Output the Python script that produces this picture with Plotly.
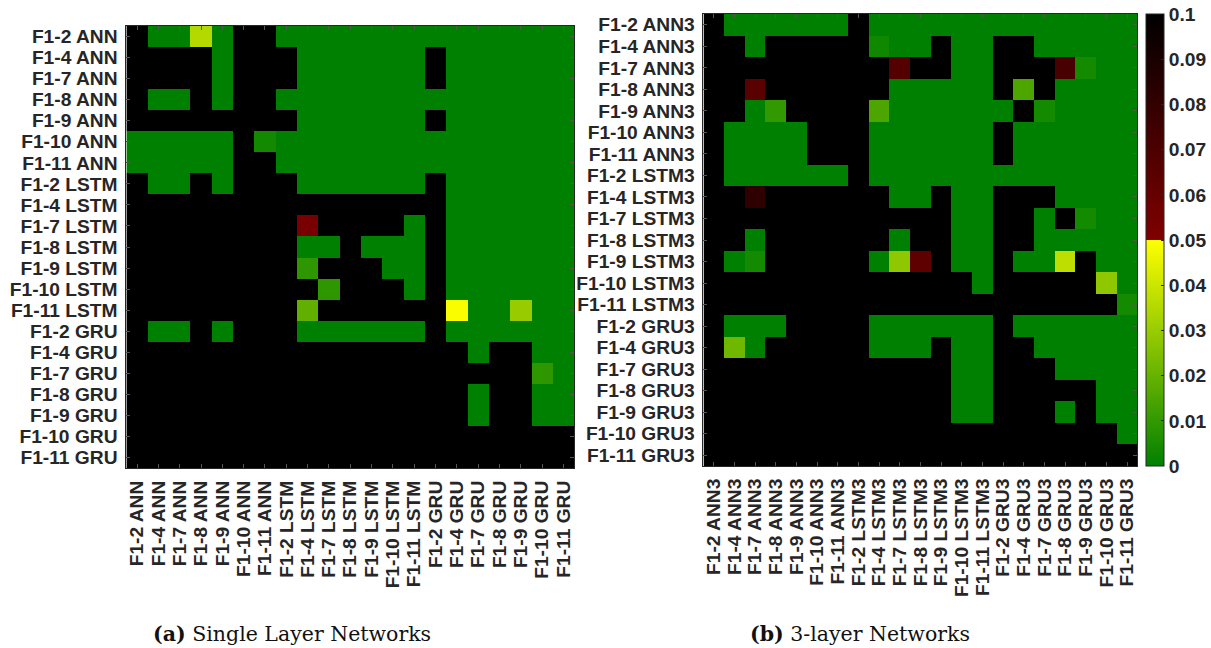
import plotly.graph_objects as go

# Model labels for the single-layer and 3-layer comparisons
labels_1 = ["F1-2 ANN", "F1-4 ANN", "F1-7 ANN", "F1-8 ANN", "F1-9 ANN", "F1-10 ANN", "F1-11 ANN",
            "F1-2 LSTM", "F1-4 LSTM", "F1-7 LSTM", "F1-8 LSTM", "F1-9 LSTM", "F1-10 LSTM", "F1-11 LSTM",
            "F1-2 GRU", "F1-4 GRU", "F1-7 GRU", "F1-8 GRU", "F1-9 GRU", "F1-10 GRU", "F1-11 GRU"]
labels_3 = ["F1-2 ANN3", "F1-4 ANN3", "F1-7 ANN3", "F1-8 ANN3", "F1-9 ANN3", "F1-10 ANN3", "F1-11 ANN3",
            "F1-2 LSTM3", "F1-4 LSTM3", "F1-7 LSTM3", "F1-8 LSTM3", "F1-9 LSTM3", "F1-10 LSTM3", "F1-11 LSTM3",
            "F1-2 GRU3", "F1-4 GRU3", "F1-7 GRU3", "F1-8 GRU3", "F1-9 GRU3", "F1-10 GRU3", "F1-11 GRU3"]

# p-values (0.1 means at or above the top of the scale)
p_single = [
    [.1, 0, 0, .035, 0, .1, .1, 0, 0, 0, 0, 0, 0, 0, 0, 0, 0, 0, 0, 0, 0],
    [.1, .1, .1, .1, 0, .1, .1, .1, 0, 0, 0, 0, 0, 0, .1, 0, 0, 0, 0, 0, 0],
    [.1, .1, .1, .1, 0, .1, .1, .1, 0, 0, 0, 0, 0, 0, .1, 0, 0, 0, 0, 0, 0],
    [.1, 0, 0, .1, 0, .1, .1, 0, 0, 0, 0, 0, 0, 0, 0, 0, 0, 0, 0, 0, 0],
    [.1, .1, .1, .1, .1, .1, .1, .1, 0, 0, 0, 0, 0, 0, .1, 0, 0, 0, 0, 0, 0],
    [0, 0, 0, 0, 0, .1, .0035, 0, 0, 0, 0, 0, 0, 0, 0, 0, 0, 0, 0, 0, 0],
    [0, 0, 0, 0, 0, .1, .1, 0, 0, 0, 0, 0, 0, 0, 0, 0, 0, 0, 0, 0, 0],
    [.1, 0, 0, .1, 0, .1, .1, .1, 0, 0, 0, 0, 0, 0, .1, 0, 0, 0, 0, 0, 0],
    [.1, .1, .1, .1, .1, .1, .1, .1, .1, .1, .1, .1, .1, .1, .1, 0, 0, 0, 0, 0, 0],
    [.1, .1, .1, .1, .1, .1, .1, .1, .053, .1, .1, .1, .1, 0, .1, 0, 0, 0, 0, 0, 0],
    [.1, .1, .1, .1, .1, .1, .1, .1, 0, 0, .1, 0, 0, 0, .1, 0, 0, 0, 0, 0, 0],
    [.1, .1, .1, .1, .1, .1, .1, .1, .009, .1, .1, .1, 0, 0, .1, 0, 0, 0, 0, 0, 0],
    [.1, .1, .1, .1, .1, .1, .1, .1, .1, .009, .1, .1, .1, 0, .1, 0, 0, 0, 0, 0, 0],
    [.1, .1, .1, .1, .1, .1, .1, .1, .019, .1, .1, .1, .1, .1, .1, .049, 0, 0, .03, 0, 0],
    [.1, 0, 0, .1, 0, .1, .1, .1, 0, 0, 0, 0, 0, 0, .1, 0, 0, 0, 0, 0, 0],
    [.1, .1, .1, .1, .1, .1, .1, .1, .1, .1, .1, .1, .1, .1, .1, .1, 0, .1, .1, 0, 0],
    [.1, .1, .1, .1, .1, .1, .1, .1, .1, .1, .1, .1, .1, .1, .1, .1, .1, .1, .1, .009, 0],
    [.1, .1, .1, .1, .1, .1, .1, .1, .1, .1, .1, .1, .1, .1, .1, .1, 0, .1, .1, 0, 0],
    [.1, .1, .1, .1, .1, .1, .1, .1, .1, .1, .1, .1, .1, .1, .1, .1, 0, .1, .1, 0, 0],
    [.1, .1, .1, .1, .1, .1, .1, .1, .1, .1, .1, .1, .1, .1, .1, .1, .1, .1, .1, .1, .1],
    [.1, .1, .1, .1, .1, .1, .1, .1, .1, .1, .1, .1, .1, .1, .1, .1, .1, .1, .1, .1, .1],
]

p_three = [
    [.1, 0, 0, 0, 0, 0, 0, .1, 0, 0, 0, 0, 0, 0, 0, 0, 0, 0, 0, 0, 0],
    [.1, .1, 0, .1, .1, .1, .1, .1, .003, 0, 0, .1, 0, 0, .1, .1, 0, 0, 0, 0, 0],
    [.1, .1, .1, .1, .1, .1, .1, .1, .1, .067, .1, .1, 0, 0, .1, .1, .1, .072, .004, 0, 0],
    [.1, .1, .065, .1, .1, .1, .1, .1, .1, 0, 0, 0, 0, 0, .1, .015, .1, 0, 0, 0, 0],
    [.1, .1, 0, .01, .1, .1, .1, .1, .015, 0, 0, 0, 0, 0, 0, .1, .004, 0, 0, 0, 0],
    [.1, 0, 0, 0, 0, .1, .1, .1, 0, 0, 0, 0, 0, 0, .1, 0, 0, 0, 0, 0, 0],
    [.1, 0, 0, 0, 0, .1, .1, .1, 0, 0, 0, 0, 0, 0, .1, 0, 0, 0, 0, 0, 0],
    [.1, 0, 0, 0, 0, 0, 0, .1, 0, 0, 0, 0, 0, 0, 0, 0, 0, 0, 0, 0, 0],
    [.1, .1, .082, .1, .1, .1, .1, .1, .1, 0, 0, .1, 0, 0, .1, .1, .1, 0, 0, 0, 0],
    [.1, .1, .1, .1, .1, .1, .1, .1, .1, .1, .1, .1, 0, 0, .1, .1, 0, .1, .004, 0, 0],
    [.1, .1, 0, .1, .1, .1, .1, .1, .1, 0, .1, .1, 0, 0, .1, .1, 0, 0, 0, 0, 0],
    [.1, 0, .004, .1, .1, .1, .1, .1, 0, .028, .063, .1, 0, 0, .1, 0, 0, .037, .1, 0, 0],
    [.1, .1, .1, .1, .1, .1, .1, .1, .1, .1, .1, .1, .1, 0, .1, .1, .1, .1, .1, .028, 0],
    [.1, .1, .1, .1, .1, .1, .1, .1, .1, .1, .1, .1, .1, .1, .1, .1, .1, .1, .1, .1, .004],
    [.1, 0, 0, 0, .1, .1, .1, .1, 0, 0, 0, 0, 0, 0, .1, 0, 0, 0, 0, 0, 0],
    [.1, .022, 0, .1, .1, .1, .1, .1, 0, 0, 0, .1, 0, 0, .1, .1, 0, 0, 0, 0, 0],
    [.1, .1, .1, .1, .1, .1, .1, .1, .1, .1, .1, .1, 0, 0, .1, .1, .1, 0, 0, 0, 0],
    [.1, .1, .1, .1, .1, .1, .1, .1, .1, .1, .1, .1, 0, 0, .1, .1, .1, .1, .1, 0, 0],
    [.1, .1, .1, .1, .1, .1, .1, .1, .1, .1, .1, .1, 0, 0, .1, .1, .1, 0, .1, 0, 0],
    [.1, .1, .1, .1, .1, .1, .1, .1, .1, .1, .1, .1, .1, .1, .1, .1, .1, .1, .1, .1, 0],
    [.1, .1, .1, .1, .1, .1, .1, .1, .1, .1, .1, .1, .1, .1, .1, .1, .1, .1, .1, .1, .1],
]

cbar_ticks = [0, 0.01, 0.02, 0.03, 0.04, 0.05, 0.06, 0.07, 0.08, 0.09, 0.1]
cbar_text = ["0", "0.01", "0.02", "0.03", "0.04", "0.05", "0.06", "0.07", "0.08", "0.09", "0.1"]

W, H = 1211, 648
label_font = dict(family="Liberation Sans, Arial, sans-serif", size=19.2, color="#262626", weight="bold")

# green -> yellow below 0.05, dark red -> black above
scale = [[0.0, "rgb(0,128,0)"], [0.5, "rgb(255,255,0)"],
         [0.5001, "rgb(128,0,0)"], [1.0, "rgb(0,0,0)"]]

fig = go.Figure()
fig.add_trace(go.Heatmap(z=p_single, x=labels_1, y=labels_1, coloraxis="coloraxis",
                         xaxis="x", yaxis="y"))
fig.add_trace(go.Heatmap(z=p_three, x=labels_3, y=labels_3, coloraxis="coloraxis",
                         xaxis="x2", yaxis="y2"))


def px_x(a):
    return a / W


def px_y(a):
    return 1 - a / H


def axis_style(labels, dom, is_x, anchor):
    d = dict(domain=dom, anchor=anchor, type="category",
             tickmode="array", tickvals=labels, ticktext=labels,
             tickfont=label_font, ticks="inside", ticklen=4, tickwidth=1,
             tickcolor="#555555", showline=True, linecolor="#262626", linewidth=1,
             mirror="ticks", showgrid=False, zeroline=False, ticklabelstandoff=4)
    if is_x:
        d["tickangle"] = -90
    else:
        d["autorange"] = "reversed"
    return d


fig.update_layout(
    width=W, height=H, margin=dict(l=0, r=0, t=0, b=0),
    paper_bgcolor="white", plot_bgcolor="white",
    xaxis=axis_style(labels_1, [px_x(127), px_x(577)], True, "y"),
    yaxis=axis_style(labels_1, [px_y(468), px_y(26)], False, "x"),
    xaxis2=axis_style(labels_3, [px_x(707), px_x(1143)], True, "y2"),
    yaxis2=axis_style(labels_3, [px_y(466), px_y(14)], False, "x2"),
    coloraxis=dict(
        colorscale=scale, cmin=0, cmax=0.1,
        colorbar=dict(
            x=px_x(1152), xanchor="left", y=px_y(466), yanchor="bottom",
            len=452 / H, lenmode="fraction", thickness=18, thicknessmode="pixels",
            xpad=0, ypad=0, outlinewidth=1, outlinecolor="#262626",
            tickmode="array", tickvals=cbar_ticks, ticktext=cbar_text,
            ticks="inside", ticklen=3, tickcolor="#262626",
            tickfont=label_font,
        ),
    ),
    showlegend=False,
)

caption_font = dict(family="DejaVu Serif, Liberation Serif, serif", size=20.5, color="#111111")
fig.add_annotation(x=px_x(152), y=px_y(634), xref="paper", yref="paper",
                   xanchor="left", yanchor="middle", showarrow=False, font=caption_font,
                   text="<b>(a)</b> Single Layer Networks")
fig.add_annotation(x=px_x(752), y=px_y(634), xref="paper", yref="paper",
                   xanchor="left", yanchor="middle", showarrow=False, font=caption_font,
                   text="<b>(b)</b> 3-layer Networks")

fig.write_html("out.html")
